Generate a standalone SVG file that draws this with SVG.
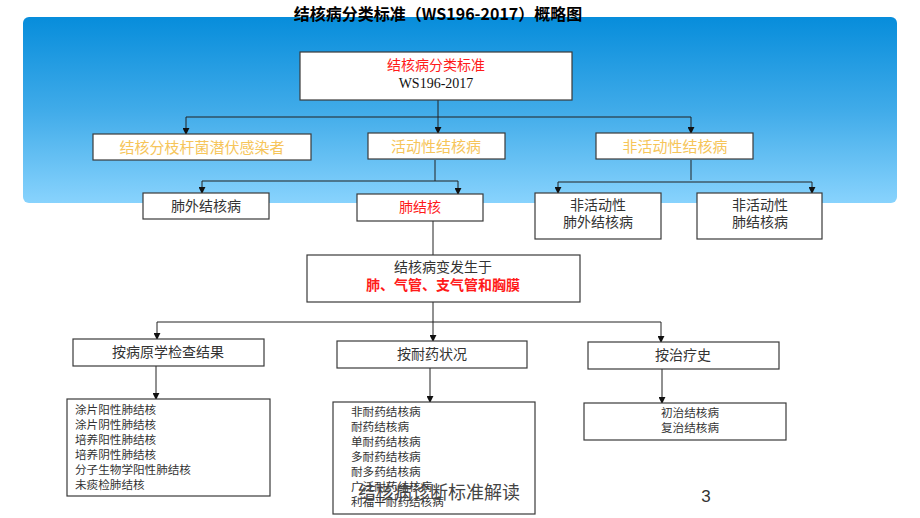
<svg xmlns="http://www.w3.org/2000/svg" width="920" height="518" viewBox="0 0 920 518">
<defs>
<linearGradient id="bg" x1="0" y1="0" x2="0" y2="1">
<stop offset="0" stop-color="#078ddb"/>
<stop offset="0.5" stop-color="#40abe9"/>
<stop offset="1" stop-color="#88d3fd"/>
</linearGradient>
<marker id="ar" viewBox="0 0 8 8" refX="7" refY="4" markerWidth="7" markerHeight="7" orient="auto" markerUnits="userSpaceOnUse">
<path d="M0,0 L8,4 L0,8 z" fill="#111"/>
</marker>
</defs>
<style>
text{font-family:"Noto Sans CJK SC","Liberation Sans",sans-serif;}
.box{fill:#fff;stroke:#3a3a3a;stroke-width:1.2;}
.ln{fill:none;stroke:#222;stroke-width:1;}
.arr{fill:none;stroke:#222;stroke-width:1;marker-end:url(#ar);}
.c{text-anchor:middle;}
.t14{font-size:14px;fill:#333;}
.red{font-size:14px;fill:#ff1a1a;font-weight:bold;}
.or{font-size:15px;fill:#f6c55a;}
.sm{font-size:11.6px;fill:#333;}
</style>
<rect x="0" y="0" width="920" height="518" fill="#fff"/>
<rect x="23" y="17" width="874" height="186" rx="6" fill="url(#bg)"/>
<text x="438" y="20" class="c" style="font-size:16px;font-weight:bold;fill:#000">结核病分类标准（WS196-2017）概略图</text>

<g id="connectors">
<path class="ln" d="M438,100 V117 M186,117 H691"/>
<path class="arr" d="M186,117 V134"/>
<path class="arr" d="M438,117 V133"/>
<path class="arr" d="M691,117 V133"/>
<path class="ln" d="M435,160 V181 M202,181 H458"/>
<path class="arr" d="M202,181 V193"/>
<path class="arr" d="M458,181 V194"/>
<path class="ln" d="M691,160 V180 M558,182 H812"/>
<path class="arr" d="M558,182 V193"/>
<path class="arr" d="M812,182 V193"/>
<path class="ln" d="M433,221 V255"/>
<path class="ln" d="M433,302 V322 M157,322 H661"/>
<path class="arr" d="M157,322 V339"/>
<path class="arr" d="M433,322 V341"/>
<path class="arr" d="M661,322 V342"/>
<path class="arr" d="M156,366 V399"/>
<path class="arr" d="M430,368 V402"/>
<path class="arr" d="M662,369 V403"/>
</g>

<g id="root">
<rect class="box" x="300" y="52" width="272" height="48"/>
<text x="436" y="70" class="c" style="font-size:14px;fill:#ff1a1a">结核病分类标准</text>
<text x="436" y="88" class="c" style="font-size:14px;fill:#111;font-family:'Liberation Serif',serif">WS196-2017</text>
</g>
<g id="latent">
<rect class="box" x="93" y="134" width="218" height="26"/>
<text x="202" y="153" class="c or">结核分枝杆菌潜伏感染者</text>
</g>
<g id="active">
<rect class="box" x="368" y="133" width="137" height="26"/>
<text x="436" y="152" class="c or">活动性结核病</text>
</g>
<g id="inactive">
<rect class="box" x="596" y="133" width="157" height="26"/>
<text x="675" y="152" class="c or">非活动性结核病</text>
</g>
<g id="extrapulm">
<rect class="box" x="143" y="193" width="126" height="26"/>
<text x="206" y="211" class="c t14">肺外结核病</text>
</g>
<g id="pulm">
<rect class="box" x="357" y="194" width="126" height="27"/>
<text x="420" y="212" class="c red" style="font-weight:normal">肺结核</text>
</g>
<g id="inactive-extra">
<rect class="box" x="535" y="193" width="126" height="46"/>
<text x="598" y="210" class="c t14">非活动性</text>
<text x="598" y="227" class="c t14">肺外结核病</text>
</g>
<g id="inactive-pulm">
<rect class="box" x="697" y="193" width="125" height="46"/>
<text x="760" y="210" class="c t14">非活动性</text>
<text x="760" y="227" class="c t14">肺结核病</text>
</g>
<g id="site">
<rect class="box" x="307" y="255" width="273" height="47"/>
<text x="443" y="272" class="c t14">结核病变发生于</text>
<text x="443" y="290" class="c red">肺、气管、支气管和胸膜</text>
</g>
<g id="by-pathogen">
<rect class="box" x="73" y="339" width="191" height="27"/>
<text x="168" y="357" class="c t14">按病原学检查结果</text>
</g>
<g id="by-resistance">
<rect class="box" x="337" y="341" width="190" height="27"/>
<text x="432" y="359" class="c t14">按耐药状况</text>
</g>
<g id="by-history">
<rect class="box" x="588" y="342" width="191" height="27"/>
<text x="683" y="360" class="c t14">按治疗史</text>
</g>
<g id="pathogen-list">
<rect class="box" x="67" y="399" width="203" height="97"/>
<text class="sm" x="75" y="414">涂片阳性肺结核</text>
<text class="sm" x="75" y="429">涂片阴性肺结核</text>
<text class="sm" x="75" y="444">培养阳性肺结核</text>
<text class="sm" x="75" y="459">培养阴性肺结核</text>
<text class="sm" x="75" y="474">分子生物学阳性肺结核</text>
<text class="sm" x="75" y="489">未痰检肺结核</text>
</g>
<g id="resistance-list">
<rect class="box" x="333" y="402" width="202" height="112"/>
<text class="sm" x="351" y="416">非耐药结核病</text>
<text class="sm" x="351" y="431">耐药结核病</text>
<text class="sm" x="351" y="446">单耐药结核病</text>
<text class="sm" x="351" y="461">多耐药结核病</text>
<text class="sm" x="351" y="476">耐多药结核病</text>
<text class="sm" x="351" y="491">广泛耐药结核病</text>
<text class="sm" x="351" y="506">利福平耐药结核病</text>
</g>
<g id="history-list">
<rect class="box" x="584" y="403" width="202" height="37"/>
<text class="sm c" x="690" y="417">初治结核病</text>
<text class="sm c" x="690" y="432">复治结核病</text>
</g>
<text x="358" y="499" style="font-size:18px;fill:#444">结核病诊断标准解读</text>
<text x="706" y="502" class="c" style="font-size:17px;fill:#333;font-family:'Liberation Sans',sans-serif">3</text>
</svg>
